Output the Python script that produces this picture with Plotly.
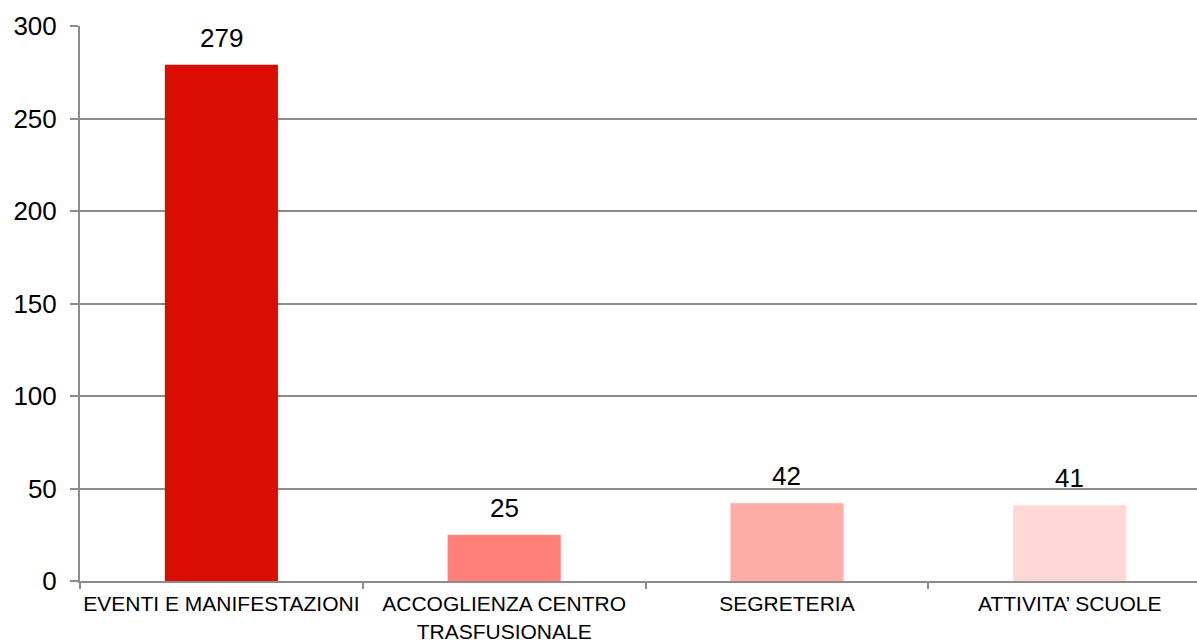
import plotly.graph_objects as go

categories = ["EVENTI E MANIFESTAZIONI", "ACCOGLIENZA CENTRO TRASFUSIONALE", "SEGRETERIA", "ATTIVITA’ SCUOLE"]
tick_labels = ["EVENTI E MANIFESTAZIONI", "ACCOGLIENZA CENTRO<br>TRASFUSIONALE", "SEGRETERIA", "ATTIVITA’ SCUOLE"]
values = [279, 25, 42, 41]
colors = ["#D90E00", "#FF7F79", "#FFABA6", "#FFD7D5"]

FONT = "Liberation Sans, Arial, sans-serif"
GRID = "#8C8C8C"

fig = go.Figure()
fig.add_trace(go.Bar(
    x=categories, y=values, marker=dict(color=colors, line=dict(width=0)),
    width=0.4, hoverinfo="x+y",
))

for c, v in zip(categories, values):
    fig.add_annotation(x=c, y=v, text=str(v), showarrow=False, yanchor="bottom",
                       yshift=10, font=dict(family=FONT, size=26, color="#000000"))

fig.update_layout(
    width=1197, height=642,
    margin=dict(l=80, r=0, t=26, b=61, autoexpand=False),
    paper_bgcolor="white", plot_bgcolor="white",
    showlegend=False,
    bargap=0.6,
)
fig.update_xaxes(
    type="category", automargin=False,
    range=[-0.5, 3.45],
    tickmode="array", tickvals=categories, ticktext=tick_labels,
    tickangle=0,
    tickfont=dict(family=FONT, size=21, color="#000000"),
    showline=True, linecolor=GRID, linewidth=2,
    ticks="outside", tickson="boundaries", ticklen=6, tickcolor=GRID, tickwidth=2,
    showgrid=False, zeroline=False,
    ticklabelstandoff=3,
)
fig.update_yaxes(
    automargin=False,
    range=[0, 300], dtick=50, tick0=0,
    tickfont=dict(family=FONT, size=26, color="#000000"),
    showline=True, linecolor=GRID, linewidth=2,
    ticks="outside", ticklen=8, tickcolor=GRID, tickwidth=2,
    showgrid=True, gridcolor=GRID, gridwidth=1.5,
    zeroline=False,
    ticklabelstandoff=8,
)

fig.write_html("out.html", config={"displayModeBar": False},
               post_script="document.body.style.margin='0';document.body.style.overflow='hidden';")
